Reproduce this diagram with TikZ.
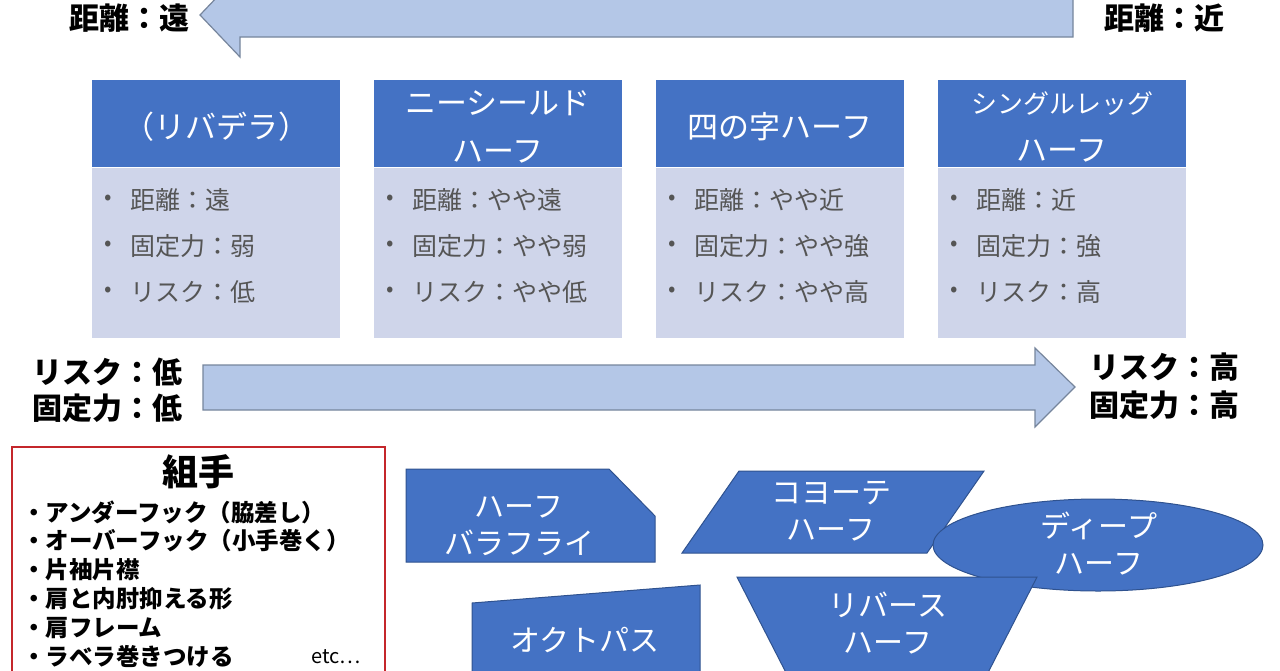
\documentclass[tikz,border=0pt]{standalone}
\usepackage{fontspec}
\setmainfont{Noto Sans CJK JP}
\usetikzlibrary{positioning}

\definecolor{hdblue}{HTML}{4472C4}
\definecolor{bodyblue}{HTML}{CFD5EA}
\definecolor{arrowblue}{HTML}{B4C7E7}
\definecolor{arrowline}{HTML}{76859C}
\definecolor{shapeline}{HTML}{2F528F}
\definecolor{itemgray}{HTML}{555555}
\definecolor{kumired}{HTML}{C4262B}

\tikzset{
  bigarrow/.style={fill=arrowblue, draw=arrowline, line width=1.2pt},
  biglabel/.style={font=\bfseries\fontsize{30}{34}\selectfont, inner sep=0pt},
  headtext/.style={text=white, align=center, font=\fontsize{31}{48}\selectfont, inner sep=0pt},
  itemtext/.style={text=itemgray, anchor=west, font=\fontsize{25}{30}\selectfont, inner sep=0pt},
  bulletdot/.style={text=itemgray, font=\fontsize{22}{24}\selectfont, inner sep=0pt},
  kumiitem/.style={anchor=west, font=\bfseries\fontsize{23.5}{26}\selectfont, inner sep=0pt},
  waza/.style={fill=hdblue, draw=shapeline, line width=1pt},
  wazatext/.style={text=white, align=center, font=\fontsize{30}{37}\selectfont, inner sep=0pt}
}

\begin{document}
\begin{tikzpicture}[x=1pt,y=-1pt]
\useasboundingbox (0,0) rectangle (1280,670);
\clip (0,0) rectangle (1280,670);

% distance arrow (top)
\draw[bigarrow] (200,15) -- (240,-27) -- (240,-7) -- (1073,-7) -- (1073,37) -- (240,37) -- (240,57) -- cycle;
\node[biglabel] (distfar) at (129,18) {距離：遠};
\node[biglabel] (distnear) at (1164,18) {距離：近};

% four half guard boxes
\foreach \n/\x/\hd/\dist/\fix/\risk in {1/92/{（リバデラ）}/遠/弱/低,
    2/374/{ニーシールド\\ハーフ}/やや遠/やや弱/やや低,
    3/656/{四の字ハーフ}/やや近/やや強/やや高,
    4/938/{\fontsize{26}{42}\selectfont シングルレッグ\\ハーフ}/近/強/高}{
  \fill[hdblue] (\x,80) rectangle ++(248,87);
  \fill[bodyblue] (\x,168) rectangle ++(248,170);
  \node[headtext] (head\n) at (\x+124,127) {\hd};
  \foreach \y in {200,246,292}
    \node[bulletdot] (dot\n-\y) at (\x+16,\y) {•};
  \node[itemtext] (dist\n) at (\x+38,200) {距離：\dist};
  \node[itemtext] (fix\n) at (\x+38,246) {固定力：\fix};
  \node[itemtext] (risk\n) at (\x+38,292) {リスク：\risk};
}

% risk arrow (middle)
\draw[bigarrow] (203,365) -- (1035,365) -- (1035,348) -- (1075,387) -- (1035,427) -- (1035,410) -- (203,410) -- cycle;
\node[biglabel] (risklow) at (107,372) {リスク：低};
\node[biglabel] (fixlow) at (107,408) {固定力：低};
\node[biglabel] (riskhigh) at (1164,367) {リスク：高};
\node[biglabel] (fixhigh) at (1164,405) {固定力：高};

% kumite list
\draw[kumired, line width=2pt] (12,447) rectangle (385,700);
\node[font=\bfseries\fontsize{36}{40}\selectfont, inner sep=0pt] (kumite) at (198,472) {組手};
\foreach \t [count=\k from 0] in {アンダーフック（脇差し）, オーバーフック（小手巻く）, 片袖片襟, 肩と内肘抑える形, 肩フレーム, ラベラ巻きつける}
  \node[kumiitem] (kumi\k) at (22,512+29*\k) {・\t};
\node[font=\fontsize{20}{24}\selectfont, inner sep=0pt] (etc) at (336,657) {etc…};

% other half guards
\draw[waza] (406,469) -- (609,469) -- (655,516) -- (655,562) -- (406,562) -- cycle;
\node[wazatext] (butterfly) at (519,526) {ハーフ\\バラフライ};
\draw[waza] (739,471) -- (984,471) -- (927,553) -- (682,553) -- cycle;
\node[wazatext] (coyote) at (831,511) {コヨーテ\\ハーフ};
\draw[waza] (1098,545) ellipse [x radius=165, y radius=46];
\node[wazatext] (deep) at (1099,544) {ディープ\\ハーフ};
\draw[waza] (472,603) -- (700,585) -- (700,700) -- (472,700) -- cycle;
\node[wazatext] (octopus) at (585,640) {オクトパス};
\draw[waza] (737,577) -- (1037,577) -- (974,700) -- (800,700) -- cycle;
\node[wazatext] (reverse) at (888,623) {リバース\\ハーフ};
\end{tikzpicture}
\end{document}
